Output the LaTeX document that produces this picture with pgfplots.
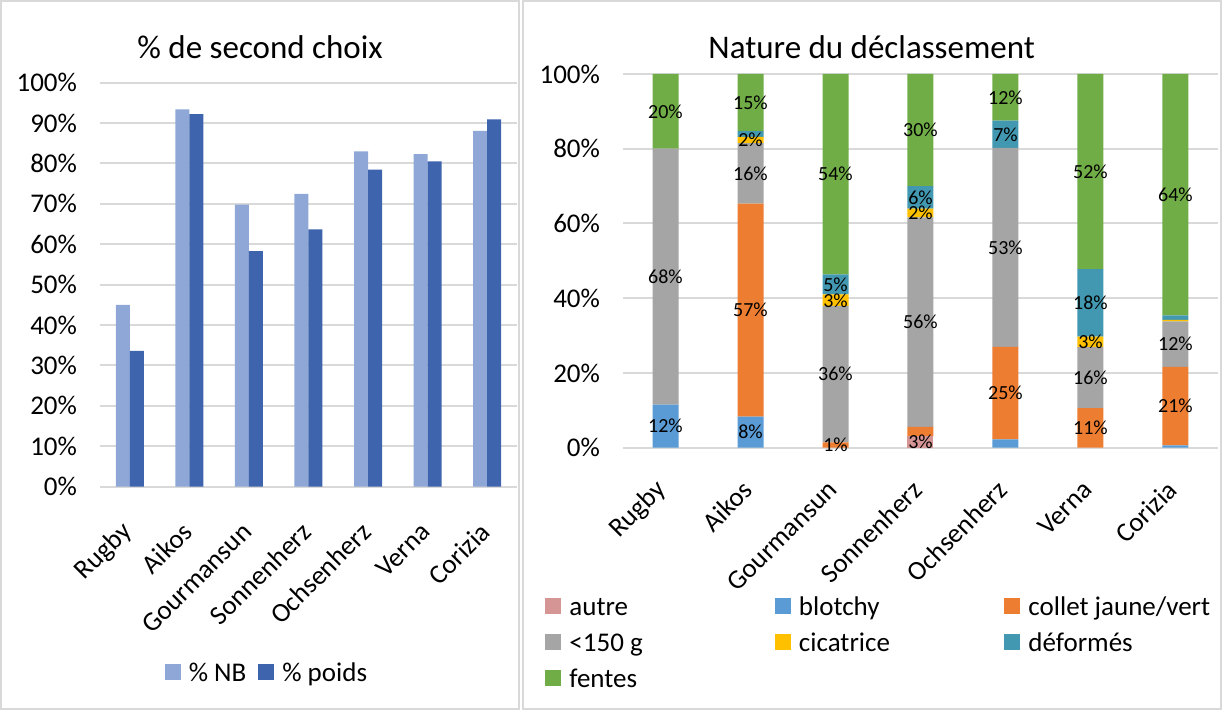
\documentclass[border=0pt]{standalone}
\usepackage{fontspec}
\setmainfont{Carlito}
\usepackage{pgfplots}
\usepackage{pgfplotstable}
\pgfplotsset{compat=1.18}

\definecolor{nbblue}{HTML}{8FA7D7}
\definecolor{poidsblue}{HTML}{3D64AD}
\definecolor{cautre}{HTML}{D69595}
\definecolor{cblotchy}{HTML}{5B9BD5}
\definecolor{ccollet}{HTML}{ED7D31}
\definecolor{cgrey}{HTML}{A5A5A5}
\definecolor{ccic}{HTML}{FFC000}
\definecolor{cdef}{HTML}{4298B0}
\definecolor{cfentes}{HTML}{70AD47}
\definecolor{gridgray}{HTML}{D9D9D9}

\newcommand\tickfont{\fontsize{13.5}{16}\selectfont}
\newcommand\titlefont{\fontsize{16.5}{19}\selectfont}
\newcommand\labelfont{\fontsize{10}{12}\selectfont}
\newcommand\lent[1]{\makebox[102.75pt][l]{\strut #1}}

% % de second choix
\pgfplotstableread{
cat nb poids
0 45.0 33.6
1 93.4 92.2
2 69.8 58.3
3 72.5 63.7
4 83.0 78.5
5 82.3 80.5
6 88.1 90.9
}\choix

% nature du declassement (share of each bar, with printed labels)
\pgfplotstableread{
cat autre aL blot bL coll cL grey gL cic ciL def dL fen fL
Rugby 0 {} 11.5 12\% 0 {} 68.5 68\% 0 {} 0 {} 20 20\%
Aikos 0 {} 8.3 8\% 57 57\% 16.2 16\% 1.7 2\% 1.5 {} 15.3 15\%
Gourmansun 0 {} 0 {} 1.4 1\% 36.5 36\% 3.1 3\% 5.4 5\% 53.6 54\%
Sonnenherz 3 3\% 0 {} 2.6 {} 56 56\% 2.4 2\% 6 6\% 30 30\%
Ochsenherz 0 {} 2.2 {} 24.8 25\% 53.2 53\% 0 {} 7.3 7\% 12.5 12\%
Verna 0 {} 0 {} 10.6 11\% 16.3 16\% 2.8 3\% 18.1 18\% 52.2 52\%
Corizia 0 {} 0.6 {} 21 21\% 12.2 12\% 0.4 {} 1.2 {} 64.6 64\%
}\nature

\pgfplotsset{
  sq/.style={legend image code/.code={\fill[#1] (0pt,-4pt) rectangle (8pt,4pt);}},
  excel/.style={
  scale only axis, enlargelimits=false,
  axis line style={draw=none}, major tick length=0pt, tick style={draw=none},
  ymajorgrids, grid style={gridgray, line width=1pt},
  ymin=0, ymax=100, xmin=-0.5, xmax=6.5, xtick={0,...,6},
  xticklabels={Rugby,Aikos,Gourmansun,Sonnenherz,Ochsenherz,Verna,Corizia},
  yticklabel style={font=\tickfont, xshift=-8pt},
  yticklabel={\pgfmathprintnumber{\tick}\%},
  /pgf/number format/assume math mode=true,
  every axis title shift=0pt,
  title style={font=\titlefont},
  legend style={draw=none, fill=none, font=\tickfont, inner sep=0pt,
    nodes={inner sep=0pt}},
}}

\begin{document}
\begin{tikzpicture}
\useasboundingbox (0,0) rectangle (611pt,355pt);
\draw[gridgray, line width=1pt] (0.5pt,0.5pt) rectangle (259.5pt,354.5pt);
\draw[gridgray, line width=1pt] (261.5pt,0.5pt) rectangle (610.5pt,354.5pt);

\begin{axis}[excel, at={(50pt,111.65pt)}, anchor=south west,
  width=208.5pt, height=202pt,
  ybar=0pt, bar width=7pt, ytick={0,10,...,100},
  xticklabel style={yshift=-18pt, xshift=1.5pt, rotate=45, anchor=east, font=\tickfont},
  title={\% de second choix}, title style={at={(0.384,1.088)}, anchor=center},
  legend columns=2,
  legend style={at={(0.398,-0.459)}, anchor=center,
    /tikz/every odd column/.append style={column sep=4pt},
    /tikz/every even column/.append style={column sep=6pt}},
]
\addplot[fill=nbblue, draw=none, sq=nbblue] table[x=cat, y=nb] {\choix};
\addlegendentry{\strut\% NB}
\addplot[fill=poidsblue, draw=none, sq=poidsblue] table[x=cat, y=poids] {\choix};
\addlegendentry{\strut\% poids}
\end{axis}

\begin{axis}[excel, at={(311.5pt,131.15pt)}, anchor=south west,
  width=297.5pt, height=186.85pt,
  ybar stacked, bar width=13pt, ytick={0,20,...,100},
  xticklabel style={yshift=-16.5pt, xshift=1pt, rotate=45, anchor=east, font=\tickfont},
  title={Nature du déclassement}, title style={at={(0.418,1.072)}, anchor=center},
  point meta=explicit symbolic, nodes near coords,
  every node near coord/.append style={font=\labelfont, anchor=center},
  legend columns=3,
  legend style={at={(-0.131,-0.389)}, anchor=north west, row sep=5.25pt,
    /tikz/every odd column/.append style={column sep=4pt}},
]
\addplot[fill=cautre, draw=none, sq=cautre] table[x expr=\coordindex, y=autre, meta=aL] {\nature};
\addlegendentry{\lent{autre}}
\addplot[fill=cblotchy, draw=none, sq=cblotchy] table[x expr=\coordindex, y=blot, meta=bL] {\nature};
\addlegendentry{\lent{blotchy}}
\addplot[fill=ccollet, draw=none, sq=ccollet] table[x expr=\coordindex, y=coll, meta=cL] {\nature};
\addlegendentry{\lent{collet jaune/vert}}
\addplot[fill=cgrey, draw=none, sq=cgrey] table[x expr=\coordindex, y=grey, meta=gL] {\nature};
\addlegendentry{\lent{<150 g}}
\addplot[fill=ccic, draw=none, sq=ccic] table[x expr=\coordindex, y=cic, meta=ciL] {\nature};
\addlegendentry{\lent{cicatrice}}
\addplot[fill=cdef, draw=none, sq=cdef] table[x expr=\coordindex, y=def, meta=dL] {\nature};
\addlegendentry{\lent{déformés}}
\addplot[fill=cfentes, draw=none, sq=cfentes] table[x expr=\coordindex, y=fen, meta=fL] {\nature};
\addlegendentry{\lent{fentes}}
\end{axis}
\end{tikzpicture}
\end{document}
